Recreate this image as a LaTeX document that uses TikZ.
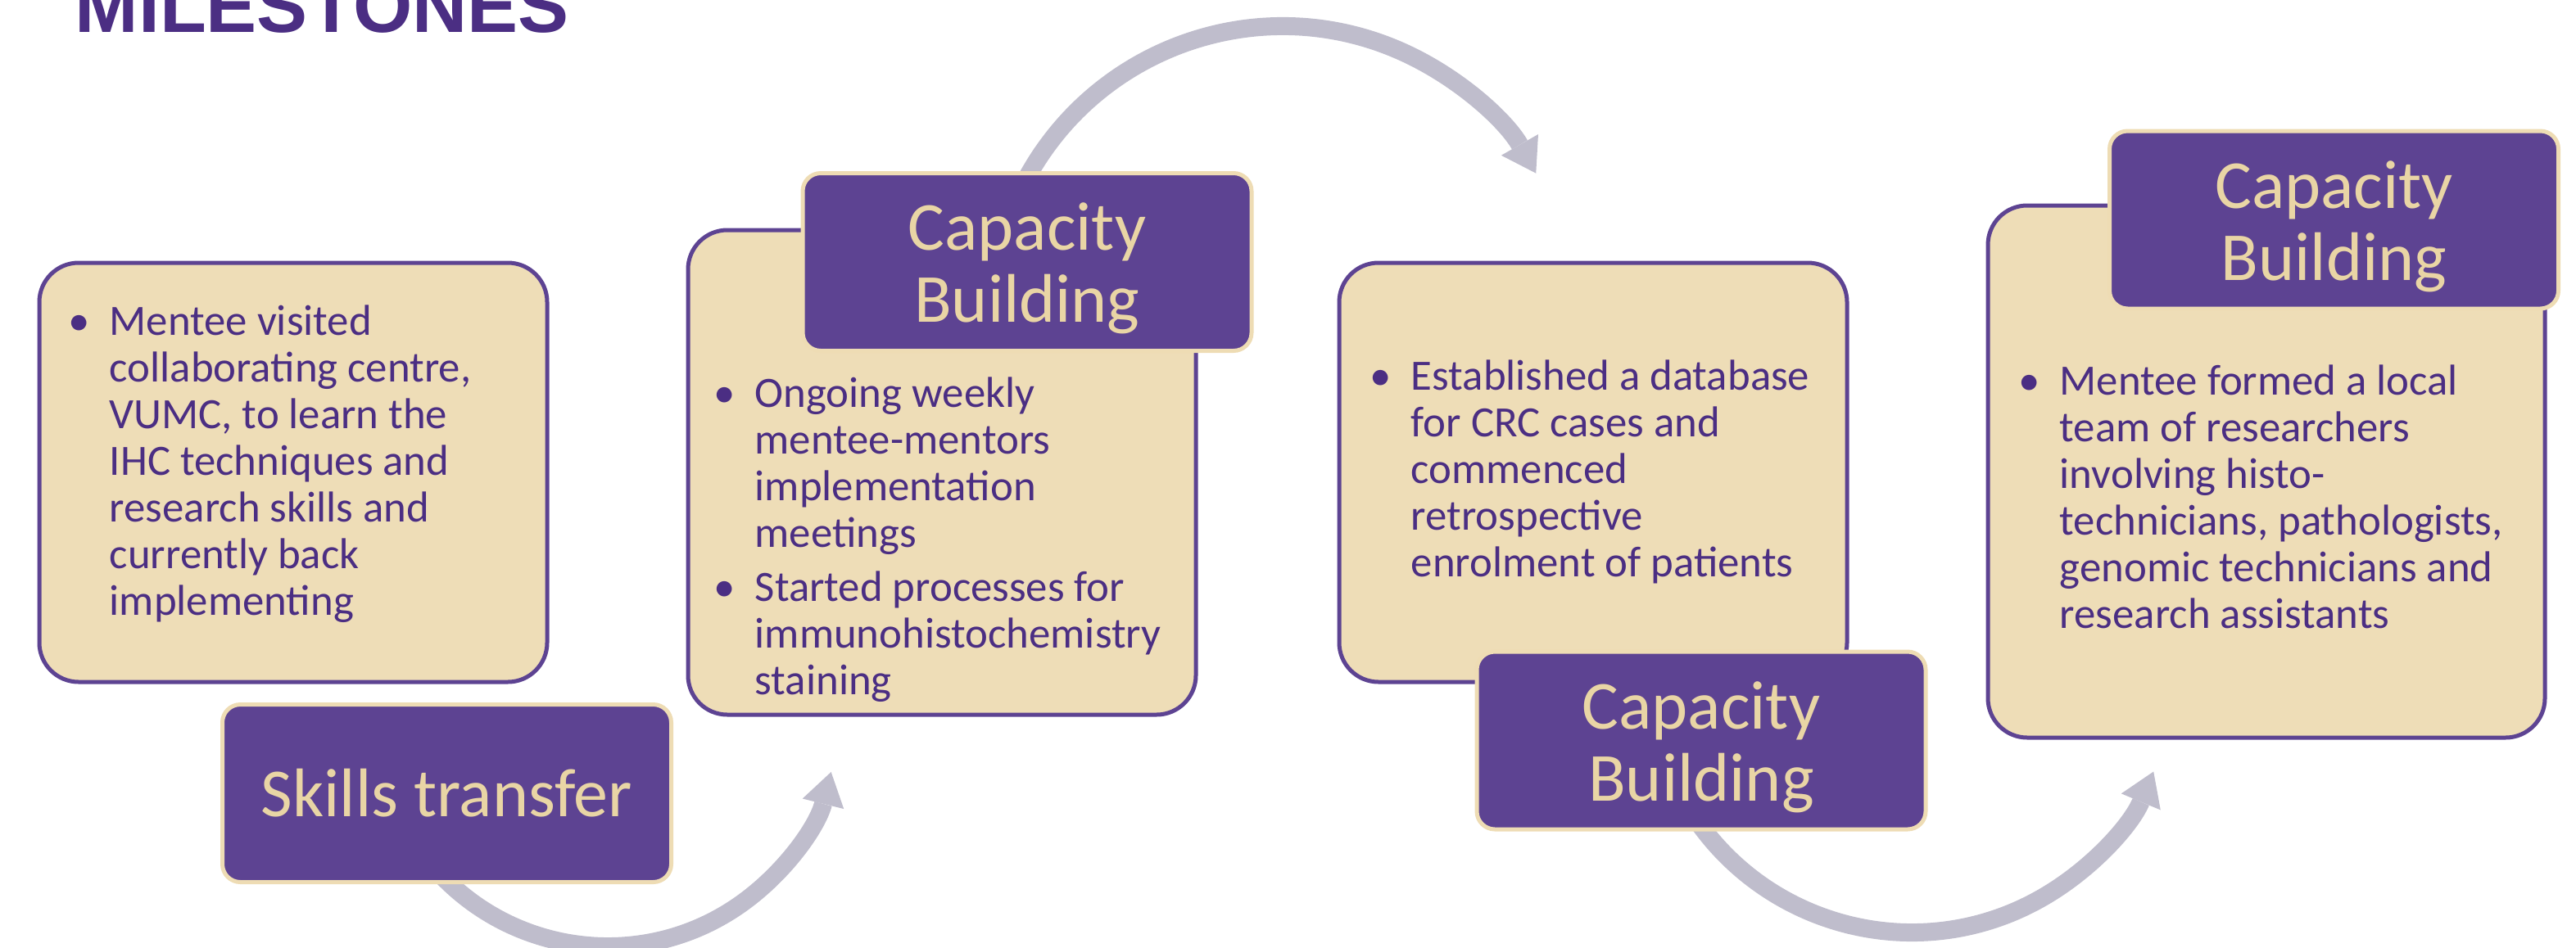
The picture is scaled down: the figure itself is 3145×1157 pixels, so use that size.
\documentclass[tikz,border=0pt]{standalone}
\usepackage{fontspec}
\setmainfont{Carlito}
\newfontfamily\titlefont{Liberation Sans}
\usetikzlibrary{arrows.meta}
\definecolor{lbfill}{HTML}{EEDDB7}
\definecolor{lbline}{HTML}{5D4392}
\definecolor{lbtext}{HTML}{4B2E83}
\definecolor{lafill}{HTML}{5D4392}
\definecolor{laline}{HTML}{EEDCB4}
\definecolor{latext}{HTML}{E9D5A5}
\definecolor{arrowc}{HTML}{BFBDCC}
\newcommand\bul{\leavevmode\llap{\makebox[9.25pt][l]{\makebox[0pt]{•}}}}
\newcommand\bodypar[1]{\parbox[t]{200pt}{\raggedright\leftskip=9.25pt #1}}
\newcommand\twoline[1]{\parbox[t]{137pt}{\centering #1}}
\tikzset{
  lightbox/.style={draw=lbline, fill=lbfill, line width=1.25pt, rounded corners=12pt, inner sep=0pt},
  labelbox/.style={draw=laline, fill=lafill, line width=1.25pt, rounded corners=5.5pt, inner sep=0pt,
    minimum width=137pt, minimum height=54.25pt, text=latext, align=center,
    font=\fontsize{21}{22}\selectfont},
  twolabel/.style={labelbox, text height=23.5pt, text depth=30.75pt},
  bodytext/.style={anchor=base west, inner sep=0pt, text=lbtext, font=\fontsize{13.2}{14.25}\selectfont},
  flowarrow/.style={draw=arrowc, line width=5.5pt, -{Triangle[length=10pt,width=13pt,line width=0pt]}},
}
\begin{document}
\begin{tikzpicture}[x=0.25pt,y=-0.25pt]
\useasboundingbox (0,0) rectangle (3145,1157);
\clip (0,0) rectangle (3145,1157);
% arrows (behind)
\coordinate (c1) at (742,875);
\coordinate (c2) at (1566,388);
\coordinate (c3) at (2334,819);
\path (c1) ++(145:281) coordinate (a1s);
\path (c2) ++(205:356) coordinate (a2s);
\path (c3) ++(150:320) coordinate (a3s);
\draw[flowarrow] (a1s) arc[start angle=145, end angle=14, radius=281];
\draw[flowarrow] (a2s) arc[start angle=205, end angle=330.3, radius=356];
\draw[flowarrow] (a3s) arc[start angle=150, end angle=22.7, radius=320];
% light boxes
\node[lightbox, minimum width=155pt, minimum height=128pt] (b1) at (358,577) {};
\node[lightbox, minimum width=155pt, minimum height=148pt] (b2) at (1150,577) {};
\node[lightbox, minimum width=155pt, minimum height=128pt] (b3) at (1945,577) {};
\node[lightbox, minimum width=170pt, minimum height=162.5pt] (b4) at (2767,576) {};
% labels
\node[labelbox] (l1) at (545.5,969) {Skills transfer};
\node[twolabel] (l2) at (1254,320) {\twoline{Capacity\\Building}};
\node[twolabel] (l3) at (2077,904.5) {\twoline{Capacity\\Building}};
\node[twolabel] (l4) at (2849.5,268.5) {\twoline{Capacity\\Building}};
% body texts
\node[bodytext] (t1) at (96,409) {\bodypar{\bul Mentee visited\\collaborating centre,\\VUMC, to learn the\\IHC techniques and\\research skills and\\currently back\\implementing}};
\node[bodytext] (t2) at (884,497) {\bodypar{\bul Ongoing weekly\\mentee-mentors\\implementation\\meetings\par\vspace{2.25pt}\bul Started processes for\\immunohistochemistry\\staining}};
\node[bodytext] (t3) at (1685,476) {\bodypar{\bul Established a database\\for CRC cases and\\commenced\\retrospective\\enrolment of patients}};
\node[bodytext] (t4) at (2477,482) {\bodypar{\bul Mentee formed a local\\team of researchers\\involving histo-\\technicians, pathologists,\\genomic technicians and\\research assistants}};
% title
\node[anchor=base west, inner sep=0pt, text=lbtext, font=\titlefont\bfseries\fontsize{23.25}{26}\selectfont] (title) at (91,39) {MILESTONES};
\end{tikzpicture}
\end{document}
